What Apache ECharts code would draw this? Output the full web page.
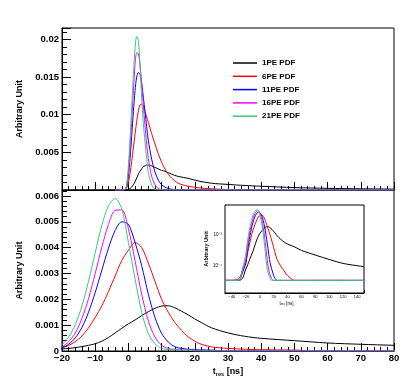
<!DOCTYPE html>
<html>
<head>
<meta charset="utf-8">
<script src="https://cdn.jsdelivr.net/npm/echarts/dist/echarts.min.js"></script>
<style>
  html, body { margin: 0; padding: 0; background: #fff; }
  #chart { width: 415px; height: 380px; }
</style>
</head>
<body>
<div id="chart"></div>
<script>
// legend names and line colours
var NAMES = ['1PE PDF', '6PE PDF', '11PE PDF', '16PE PDF', '21PE PDF'];
var COLORS = ['#000000', '#ff0000', '#0000ff', '#ff00ff', '#33cc77'];

// upper panel: narrow PDFs, t [ns]
var T_TOP = [-4, -2, -1, -0.5, 0, 0.5, 1, 1.5, 2, 2.5, 3, 3.5, 4, 4.5, 5, 5.5, 6, 7, 8, 9,
  10, 11, 12, 13, 15, 18, 21, 25, 30, 35, 40, 50, 60, 70, 80];
var TOP_1PE = [0, 0, 0, 0, 0.00005, 0.0002, 0.0004, 0.0007, 0.0011, 0.0016, 0.0021, 0.0025, 0.0028, 0.0031, 0.0032, 0.0033, 0.0033, 0.0032, 0.003, 0.0028,
  0.0026, 0.0025, 0.0023, 0.0021, 0.0018, 0.00155, 0.0012, 0.0009, 0.00074, 0.0006, 0.0005, 0.00032, 0.00022, 0.00016, 0.00012];
var TOP_6PE = [0, 0, 0.0001, 0.0003, 0.001, 0.0022, 0.0038, 0.0056, 0.0074, 0.0091, 0.0105, 0.0113, 0.0114, 0.011, 0.0104, 0.0097, 0.009, 0.0075, 0.0061, 0.0048,
  0.0037, 0.0028, 0.0021, 0.0016, 0.0009, 0.0005, 0.0003, 0.00015, 0.00007, 0.00003, 0, 0, 0, 0, 0];
var TOP_11PE = [0, 0, 0.0001, 0.0005, 0.0018, 0.0042, 0.0072, 0.0104, 0.0132, 0.015, 0.0156, 0.0153, 0.0141, 0.0123, 0.0104, 0.0084, 0.0066, 0.0041, 0.0024, 0.0013,
  0.0007, 0.0004, 0.0002, 0.0001, 0, 0, 0, 0, 0, 0, 0, 0, 0, 0, 0];
var TOP_16PE = [0, 0, 0.0001, 0.0006, 0.0025, 0.0055, 0.0092, 0.0132, 0.0166, 0.0182, 0.0181, 0.0166, 0.0142, 0.0113, 0.0085, 0.0061, 0.0042, 0.0018, 0.0007, 0.0002,
  0.00005, 0, 0, 0, 0, 0, 0, 0, 0, 0, 0, 0, 0, 0, 0];
var TOP_21PE = [0, 0, 0.0001, 0.0008, 0.0032, 0.0068, 0.011, 0.0152, 0.0188, 0.0204, 0.0198, 0.0165, 0.0122, 0.0088, 0.0064, 0.0041, 0.0023, 0.0007, 0.0001, 0,
  0, 0, 0, 0, 0, 0, 0, 0, 0, 0, 0, 0, 0, 0, 0];

// lower panel and inset: wide PDFs, t [ns]
var T_BOT = [-50, -40, -30, -25, -22, -20, -18, -16, -14, -12, -10, -8, -6, -4, -2, 0, 2, 4, 6, 8,
  10, 12, 14, 16, 18, 20, 22, 25, 30, 35, 40, 50, 60, 70, 80, 100, 120, 150];
var BOT_1PE = [0, 0, 0.000035, 0.00004, 0.00006, 0.00008, 0.0001, 0.00013, 0.00017, 0.00022, 0.00028, 0.00038, 0.00052, 0.0007, 0.00088, 0.00105, 0.0012, 0.00137, 0.00152, 0.00165,
  0.00174, 0.00175, 0.00167, 0.00154, 0.0014, 0.00124, 0.0011, 0.0009, 0.0007, 0.00057, 0.00049, 0.0004, 0.00031, 0.00026, 0.00022, 0.00016, 0.00012, 0.000095];
var BOT_6PE = [0, 0, 0.00004, 0.00007, 0.0001, 0.00013, 0.00022, 0.00036, 0.00058, 0.0009, 0.0013, 0.00175, 0.0023, 0.0029, 0.0035, 0.0039, 0.0042, 0.004, 0.0034, 0.0027,
  0.002, 0.0015, 0.0011, 0.0008, 0.00055, 0.00038, 0.00026, 0.00016, 0.0001, 0.00007, 0.00005, 0.000035, 0, 0, 0, 0, 0, 0];
var BOT_11PE = [0, 0, 0.000035, 0.00006, 0.00009, 0.00012, 0.00026, 0.00051, 0.00091, 0.0015, 0.00226, 0.00313, 0.00398, 0.00466, 0.005, 0.0049, 0.0042, 0.0033, 0.0022, 0.0013,
  0.00068, 0.00035, 0.00016, 0.0001, 0.00007, 0.00005, 0.00004, 0.000035, 0, 0, 0, 0, 0, 0, 0, 0, 0, 0];
var BOT_16PE = [0, 0, 0.000035, 0.00007, 0.00011, 0.00017, 0.00036, 0.0007, 0.00126, 0.00203, 0.003, 0.00402, 0.0049, 0.00544, 0.00546, 0.00473, 0.00349, 0.0022, 0.00117, 0.00054,
  0.00022, 0.0001, 0.00006, 0.000045, 0.000037, 0.000035, 0, 0, 0, 0, 0, 0, 0, 0, 0, 0, 0, 0];
var BOT_21PE = [0, 0, 0.000035, 0.00008, 0.00015, 0.00025, 0.00054, 0.00102, 0.00174, 0.0027, 0.0038, 0.00486, 0.00562, 0.0059, 0.0055, 0.0042, 0.0028, 0.0015, 0.00068, 0.00028,
  0.0001, 0.00006, 0.000045, 0.000037, 0.000035, 0, 0, 0, 0, 0, 0, 0, 0, 0, 0, 0, 0, 0];

// histogram minimum shown in the log inset
var FLOOR = 3.5e-5;

var FONT = '"Liberation Sans", Arial, sans-serif';

var topData = [TOP_1PE, TOP_6PE, TOP_11PE, TOP_16PE, TOP_21PE];
var botData = [BOT_1PE, BOT_6PE, BOT_11PE, BOT_16PE, BOT_21PE];

function pairs(t, v) {
  return t.map(function (x, i) { return [x, v[i]]; });
}
function floorPairs(t, v) {
  return t.map(function (x, i) { return [x, Math.max(v[i], FLOOR)]; });
}
// only show labels at multiples of step
function stepLabel(step, hideZero) {
  return function (v) {
    var r = v / step;
    if (Math.abs(r - Math.round(r)) > 1e-6) return '';
    if (hideZero && Math.abs(v) < 1e-12) return '';
    var s = String(+v.toFixed(6));
    return s.replace('-', '\u2212');
  };
}

var series = [];
for (var k = 0; k < NAMES.length; k++) {
  var style = { width: 1, color: COLORS[k] };
  series.push({ name: NAMES[k], type: 'line', xAxisIndex: 0, yAxisIndex: 0, smooth: 0.3, symbol: 'none',
    color: COLORS[k], lineStyle: style, data: pairs(T_TOP, topData[k]) });
  series.push({ name: NAMES[k], type: 'line', xAxisIndex: 1, yAxisIndex: 1, smooth: 0.3, symbol: 'none',
    color: COLORS[k], lineStyle: style, data: pairs(T_BOT, botData[k]) });
  series.push({ name: NAMES[k], type: 'line', xAxisIndex: 2, yAxisIndex: 2, smooth: 0.3, symbol: 'none',
    color: COLORS[k], lineStyle: style, data: floorPairs(T_BOT, botData[k]) });
}

var tickStyle = { color: '#000', width: 1 };
var mainLabel = { fontFamily: FONT, fontWeight: 'bold', fontSize: 9.5, color: '#000' };
var nameStyle = { fontFamily: FONT, fontWeight: 'bold', fontSize: 9, color: '#000' };

var option = {
  animation: false,
  backgroundColor: '#fff',
  grid: [
    { left: 62, top: 28, width: 332, height: 162, show: true, borderColor: '#000', borderWidth: 1 },
    { left: 62, top: 190, width: 332, height: 161, show: true, borderColor: '#000', borderWidth: 1 },
    { left: 225, top: 205, width: 139, height: 88, show: true, borderColor: '#000', borderWidth: 1, backgroundColor: '#fff', z: 3 }
  ],
  legend: {
    data: NAMES, orient: 'vertical', left: 228, top: 53, icon: 'rect',
    itemWidth: 24, itemHeight: 1.5, itemGap: 3.3, selectedMode: false,
    textStyle: { fontFamily: FONT, fontWeight: 'bold', fontSize: 8, color: '#000', lineHeight: 10 }
  },
  xAxis: [
    { gridIndex: 0, type: 'value', min: -20, max: 80, interval: 10,
      axisLine: { onZero: false, lineStyle: tickStyle }, axisTick: { inside: true, length: 8, lineStyle: tickStyle },
      minorTick: { show: true, splitNumber: 5, length: 4, lineStyle: tickStyle },
      splitLine: { show: false }, axisLabel: { show: false } },
    { gridIndex: 1, type: 'value', min: -20, max: 80, interval: 10,
      axisLine: { onZero: false, lineStyle: tickStyle }, axisTick: { inside: true, length: 8, lineStyle: tickStyle },
      minorTick: { show: true, splitNumber: 5, length: 4, lineStyle: tickStyle },
      splitLine: { show: false },
      axisLabel: Object.assign({ margin: 2, formatter: stepLabel(10, false) }, mainLabel),
      name: 't{s|res} [ns]', nameLocation: 'middle', nameGap: 15,
      nameTextStyle: Object.assign({ rich: { s: { fontFamily: FONT, fontWeight: 'bold', fontSize: 5.5, padding: [5, 0, 0, 0] } } }, nameStyle) },
    { gridIndex: 2, type: 'value', min: -50, max: 150, interval: 10,
      axisLine: { onZero: false, lineStyle: tickStyle }, axisTick: { inside: true, length: 3, lineStyle: tickStyle },
      minorTick: { show: true, splitNumber: 2, length: 1.5, lineStyle: tickStyle },
      splitLine: { show: false },
      axisLabel: { fontFamily: FONT, fontSize: 4, color: '#000', margin: 2, formatter: stepLabel(20, false) },
      name: 't{s|res} [ns]', nameLocation: 'middle', nameGap: 8,
      nameTextStyle: { fontFamily: FONT, fontSize: 4.5, color: '#000', padding: [0, 16, 0, 0],
        rich: { s: { fontFamily: FONT, fontSize: 3, padding: [2, 0, 0, 0] } } } }
  ],
  yAxis: [
    { gridIndex: 0, type: 'value', min: 0, max: 0.0215, interval: 0.005,
      axisLine: { show: true, onZero: false, lineStyle: tickStyle }, axisTick: { inside: true, length: 9, lineStyle: tickStyle },
      minorTick: { show: true, splitNumber: 5, length: 5, lineStyle: tickStyle },
      splitLine: { show: false },
      axisLabel: Object.assign({ margin: 3, formatter: stepLabel(0.005, true) }, mainLabel),
      name: 'Arbitrary Unit', nameLocation: 'middle', nameGap: 37, nameTextStyle: nameStyle },
    { gridIndex: 1, type: 'value', min: 0, max: 0.00623, interval: 0.001,
      axisLine: { show: true, onZero: false, lineStyle: tickStyle }, axisTick: { inside: true, length: 9, lineStyle: tickStyle },
      minorTick: { show: true, splitNumber: 5, length: 5, lineStyle: tickStyle },
      splitLine: { show: false },
      axisLabel: Object.assign({ margin: 3, formatter: stepLabel(0.001, false) }, mainLabel),
      name: 'Arbitrary Unit', nameLocation: 'middle', nameGap: 37, nameTextStyle: nameStyle },
    { gridIndex: 2, type: 'log', logBase: 10, min: 1.4e-5, max: 8.4e-3,
      axisLine: { show: true, onZero: false, lineStyle: tickStyle }, axisTick: { inside: true, length: 3, lineStyle: tickStyle },
      minorTick: { show: true, splitNumber: 9, length: 1.5, lineStyle: tickStyle },
      splitLine: { show: false },
      axisLabel: { fontFamily: FONT, fontSize: 4.5, color: '#000', margin: 3,
        formatter: function (v) {
          var e = Math.log(v) / Math.LN10;
          if (Math.abs(e - Math.round(e)) > 1e-6) return '';
          return '10' + (Math.round(e) === -3 ? '\u207B\u00B3' : '\u207B\u2074');
        } },
      name: 'Arbitrary Unit', nameLocation: 'middle', nameGap: 14,
      nameTextStyle: { fontFamily: FONT, fontWeight: 'bold', fontSize: 5.5, color: '#000' } }
  ],
  series: series
};

var myChart = echarts.init(document.getElementById('chart'), null, { renderer: 'canvas' });
myChart.setOption(option);
</script>
</body>
</html>
